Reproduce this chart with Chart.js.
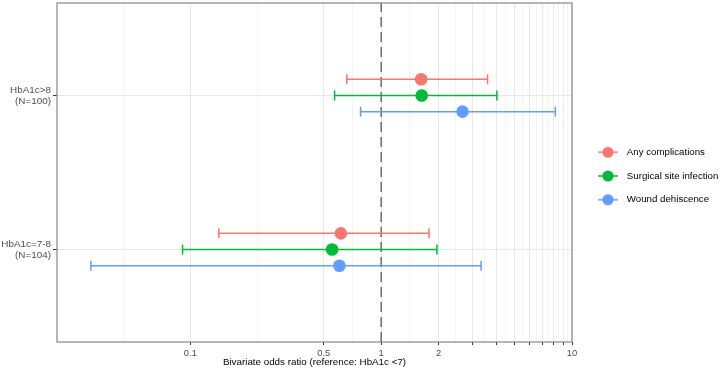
<!DOCTYPE html>
<html>
<head>
<meta charset="utf-8">
<script src="https://cdn.jsdelivr.net/npm/chart.js@4/dist/chart.umd.min.js"></script>
<style>
  html, body { margin: 0; padding: 0; background: #fff; }
  #wrap { width: 720px; height: 374px; position: relative; }
</style>
</head>
<body>
<div id="wrap"><canvas id="forest"></canvas></div>
<script>
// groups bottom to top (y = 1, 2)
const groupLabels = [['HbA1c=7-8', '(N=104)'], ['HbA1c>8', '(N=100)']];
const seriesNames = ['Any complications', 'Surgical site infection', 'Wound dehiscence'];
const seriesColors = ['#F8766D', '#00BA38', '#619CFF'];

// odds ratios and 95% CI, index 0 = HbA1c=7-8, index 1 = HbA1c>8
const anyOR = [0.615, 1.62];
const anyLo = [0.141, 0.66];
const anyHi = [1.78, 3.61];
const ssiOR = [0.553, 1.63];
const ssiLo = [0.091, 0.57];
const ssiHi = [1.96, 4.04];
const wdOR = [0.604, 2.67];
const wdLo = [0.0301, 0.78];
const wdHi = [3.34, 8.18];

const xBreaks = [0.1, 0.5, 1, 2, 3, 4, 5, 6, 7, 8, 9, 10];
const xBreakLabels = ['0.1', '0.5', '1', '2', '', '', '', '', '', '', '', '10'];
const xMin = 0.02, xMax = 10;

const orArr = [anyOR, ssiOR, wdOR];
const loArr = [anyLo, ssiLo, wdLo];
const hiArr = [anyHi, ssiHi, wdHi];
const dodge = [0.105, 0, -0.105];

// minor grid = geometric midpoints between breaks (incl. one at the lower limit)
const allBreaks = [xMin].concat(xBreaks);
const minorBreaks = [];
for (let i = 0; i < allBreaks.length - 1; i++) {
    minorBreaks.push(Math.sqrt(allBreaks[i] * allBreaks[i + 1]));
}

const FONT = "'Liberation Sans', Arial, sans-serif";

// legend keys: line through a dot
function keyImage(color) {
    const c = document.createElement('canvas');
    c.width = 20; c.height = 14;
    const g = c.getContext('2d');
    g.strokeStyle = color;
    g.lineWidth = 1.5;
    g.beginPath(); g.moveTo(0, 7); g.lineTo(20, 7); g.stroke();
    g.fillStyle = color;
    g.beginPath(); g.arc(10, 7, 5.6, 0, Math.PI * 2); g.fill();
    return c;
}
const keyImages = seriesColors.map(keyImage);

const datasets = [];
// point estimates
seriesNames.forEach((name, s) => {
    datasets.push({
        label: name,
        data: orArr[s].map((v, g) => ({ x: v, y: g + 1 + dodge[s] })),
        backgroundColor: seriesColors[s],
        borderColor: seriesColors[s],
        pointRadius: 6.3,
        pointBorderWidth: 0,
        showLine: false
    });
});
// confidence intervals
seriesNames.forEach((name, s) => {
    groupLabels.forEach((gl, g) => {
        datasets.push({
            label: name + ' CI',
            data: [
                { x: loArr[s][g], y: g + 1 + dodge[s] },
                { x: hiArr[s][g], y: g + 1 + dodge[s] }
            ],
            showLine: true,
            borderColor: seriesColors[s],
            borderWidth: 1.5,
            pointStyle: 'line',
            pointRotation: 90,
            pointRadius: 5,
            pointBorderWidth: 1.5,
            pointBorderColor: seriesColors[s]
        });
    });
});
// reference line at OR = 1
datasets.push({
    label: 'ref',
    data: [{ x: 1, y: 0.4 }, { x: 1, y: 2.6 }],
    showLine: true,
    borderColor: '#6b6b6b',
    borderWidth: 1.5,
    borderDash: [10, 5],
    pointRadius: 0
});

const panelBorder = {
    id: 'panelBorder',
    afterInit(chart) {
        const lg = chart.legend;
        const fit = lg.fit.bind(lg);
        lg.fit = function () { fit(); this.width = 140; };
    },
    afterLayout(chart) {
        // centre the legend a little lower, as in the original
        chart.legend.top += 3.5;
        chart.legend.bottom += 3.5;
    },
    afterDraw(chart) {
        const a = chart.chartArea;
        const ctx = chart.ctx;
        ctx.save();
        ctx.strokeStyle = '#858585';
        ctx.lineWidth = 1.2;
        ctx.strokeRect(a.left, a.top, a.right - a.left, a.bottom - a.top);
        ctx.restore();
    }
};

new Chart(document.getElementById('forest'), {
    type: 'scatter',
    data: { datasets: datasets },
    plugins: [panelBorder],
    options: {
        responsive: true,
        maintainAspectRatio: false,
        animation: false,
        layout: { autoPadding: false, padding: { top: 3, left: 0, right: 0, bottom: 0 } },
        scales: {
            x: {
                type: 'logarithmic',
                min: xMin,
                max: xMax,
                afterBuildTicks: (scale) => {
                    const t = xBreaks.map((v, i) => ({ value: v, lbl: xBreakLabels[i], minor: false }));
                    minorBreaks.forEach(v => t.push({ value: v, lbl: '', minor: true }));
                    t.sort((a, b) => a.value - b.value);
                    scale.ticks = t;
                },
                afterFit: (scale) => { scale.height = 32; },
                border: { display: false },
                grid: {
                    color: (ctx) => ctx.tick && ctx.tick.minor ? '#efefef' : '#e8e8e8',
                    lineWidth: (ctx) => ctx.tick && ctx.tick.minor ? 0.7 : 1,
                    tickColor: (ctx) => ctx.tick && ctx.tick.minor ? 'rgba(0,0,0,0)' : '#333333',
                    tickLength: 3,
                    tickWidth: 1
                },
                ticks: {
                    autoSkip: false,
                    maxRotation: 0,
                    padding: 3,
                    color: '#4d4d4d',
                    font: { family: FONT, size: 9.4 },
                    callback: (v, i, ticks) => ticks[i].lbl
                },
                title: {
                    display: true,
                    text: 'Bivariate odds ratio (reference: HbA1c <7)',
                    color: '#000',
                    font: { family: FONT, size: 9.8 },
                    padding: { top: 0, bottom: 6 }
                }
            },
            y: {
                type: 'linear',
                min: 0.4,
                max: 2.6,
                afterBuildTicks: (scale) => {
                    scale.ticks = groupLabels.map((l, i) => ({ value: i + 1 }));
                },
                afterFit: (scale) => {
                    scale.width = 57;
                    scale.paddingTop = 0;
                    scale.paddingBottom = 0;
                },
                border: { display: false },
                grid: {
                    color: '#e8e8e8',
                    lineWidth: 1,
                    tickColor: '#333333',
                    tickLength: 4
                },
                ticks: {
                    padding: 2,
                    color: '#4d4d4d',
                    font: { family: FONT, size: 9.9, lineHeight: 1.1 },
                    callback: (v) => groupLabels[Math.round(v) - 1]
                }
            },
            spacer: {
                type: 'linear',
                position: 'right',
                display: true,
                grid: { display: false, drawTicks: false },
                border: { display: false },
                ticks: { display: false },
                afterFit: (scale) => {
                    scale.width = 8;
                    scale.paddingTop = 0;
                    scale.paddingBottom = 0;
                }
            }
        },
        plugins: {
            tooltip: { enabled: false },
            legend: {
                position: 'right',
                fullSize: false,
                labels: {
                    usePointStyle: true,
                    pointStyleWidth: 28,
                    padding: 14,
                    color: '#000',
                    font: { family: FONT, size: 9.7 },
                    filter: (item) => item.datasetIndex < 3,
                    generateLabels: (chart) => {
                        const items = Chart.defaults.plugins.legend.labels.generateLabels(chart);
                        return items.map(it => it.datasetIndex < 3
                            ? Object.assign({}, it, { pointStyle: keyImages[it.datasetIndex], rotation: 0 })
                            : it);
                    }
                },
                onClick: () => {}
            }
        }
    }
});
</script>
</body>
</html>
